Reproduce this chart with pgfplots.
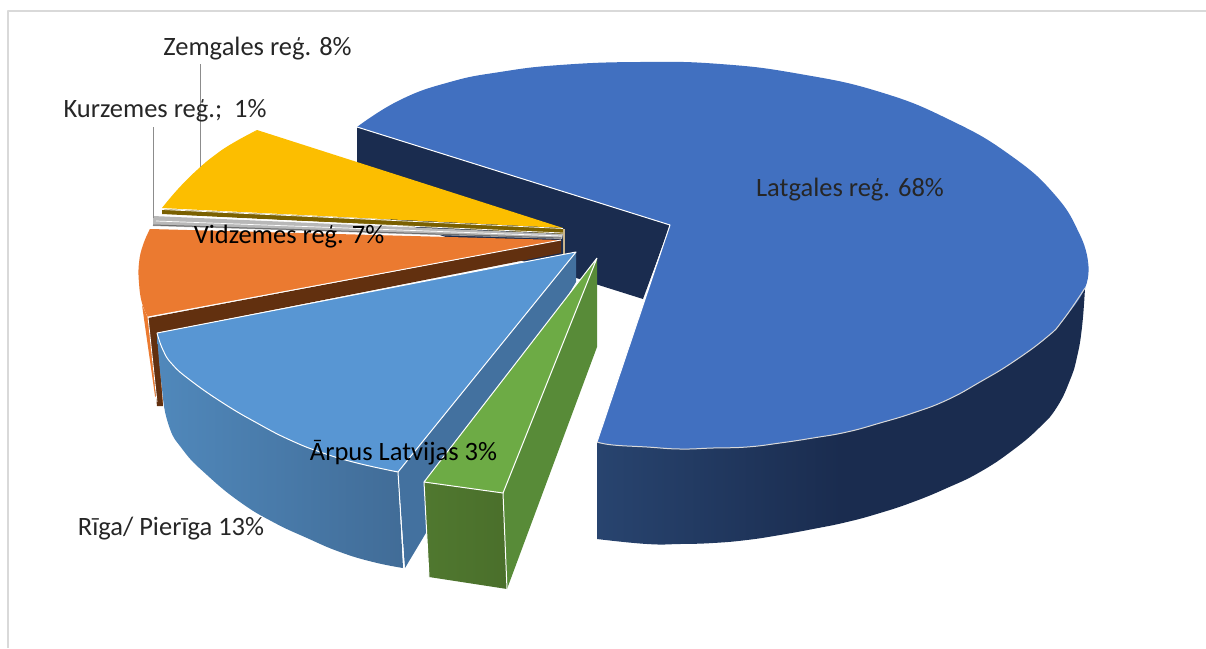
\documentclass[border=0pt]{standalone}
\usepackage{pgfplots}
\pgfplotsset{compat=1.18}
\usepackage{fontspec}
\setmainfont{Carlito}
\definecolor{cBlue}{HTML}{4170C0}
\definecolor{cNavy}{HTML}{1A2C4F}
\definecolor{cNavyL}{HTML}{28446F}
\definecolor{cYel}{HTML}{FCBE00}
\definecolor{cOlive}{HTML}{7A6000}
\definecolor{cOra}{HTML}{EB7A30}
\definecolor{cBro}{HTML}{62300F}
\definecolor{cLB}{HTML}{5896D3}
\definecolor{cLBw}{HTML}{43719F}
\definecolor{cLBl}{HTML}{5088BB}
\definecolor{cLBr}{HTML}{416C97}
\definecolor{cG}{HTML}{6DAB45}
\definecolor{cGr}{HTML}{588B38}
\definecolor{cGfl}{HTML}{50782F}
\definecolor{cGf}{HTML}{4A6F2B}
\definecolor{cTxt}{HTML}{262626}
\definecolor{cFrame}{HTML}{D9D9D9}
\definecolor{cGray}{HTML}{B8B8B8}
\definecolor{cGrayD}{HTML}{6E6E6E}
\definecolor{cLead}{HTML}{8C8C8C}
\definecolor{cTan}{HTML}{C8B48C}
\tikzset{lab/.style={font=\fontsize{26.5}{30}\selectfont, text=cTxt, inner sep=0pt, anchor=center},
  arc/.style={smooth, tension=0.8}}
\begin{document}
\begin{tikzpicture}
\begin{axis}[
  scale only axis, width=1206pt, height=648pt,
  xmin=0, xmax=1206, ymin=0, ymax=648, y dir=reverse,
  axis lines=none, clip=true,
  every axis plot/.append style={line join=round},
]
\path (axis cs:0,0) -- (axis cs:1206,648);
% frame
\addplot[draw=cFrame, line width=2pt] coordinates {(8,648)(8,11)(1206,11)};

% Latgales wall
\addplot[fill=cNavy, draw=none] coordinates {(357,127)(670,225)(643,299)(357,209)} --cycle;
% Latgales side
\addplot[draw=none, arc, left color=cNavyL, right color=cNavy, middle color=cNavy] coordinates {(597,539)(647,544)(680,544)(713,543)(747,540)(780,535)(813,529)(847,522)(880,513)(913,502)(947,488)(980,472)(1013,450)(1040,427)(1057,407)(1070,380)(1077,357)(1082,327)(1085,288)};
\addplot[draw=none, left color=cNavyL, right color=cNavy, middle color=cNavy] coordinates {(597,442)(597,539)(720,530)(1085,288)} --cycle;
% Latgales top
\addplot[fill=cBlue, draw=none] coordinates {(357,127)(700,100)(1088,262)(800,420)(597,442)(670,225)} --cycle;
\addplot[fill=cBlue, draw=none, arc] coordinates {(357,127)(400,100)(450,82)(500,72)(560,65)(640,62)(720,64)(800,74)(880,92)(950,120)(1010,155)(1055,195)(1080,235)(1088,262)};
\addplot[fill=cBlue, draw=none, arc] coordinates {(1088,262)(1085,288)(1063,320)(1047,337)(1013,362)(980,382)(947,400)(913,413)(880,423)(847,432)(813,438)(780,443)(747,447)(713,448)(680,449)(647,447)(613,445)(597,442)};
\addplot[draw=white, line width=1pt] coordinates {(357,127)(670,225)(597,442)};
\addplot[draw=white!85!black, line width=1pt, arc] coordinates {(1085,288)(1063,320)(1047,337)(1013,362)(980,382)(947,400)(913,413)(880,423)(847,432)(813,438)(780,443)(747,447)(713,448)(680,449)(647,447)(613,445)(597,442)};

% Zemgales
\addplot[fill=cYel, draw=none] coordinates {(563,228)(257,130)(212,162)(162,208)} --cycle;
\addplot[fill=cYel, draw=none, arc] coordinates {(257,130)(233,143)(215,155)(197,170)(178,189)(162,208)};
\addplot[fill=cOlive, draw=none] coordinates {(162,209)(563,228)(563,234)(162,214)} --cycle;
\addplot[draw=white, line width=0.7pt] coordinates {(162,209.5)(563,228.5)};
% Kurzemes
\addplot[fill=cGray, draw=none] coordinates {(153,216)(563,234)(562,239)(153,226)} --cycle;
\addplot[draw=white, line width=0.7pt] coordinates {(156,221)(562,236)};
\addplot[draw=cGrayD, line width=1pt] coordinates {(153,225)(561,238)};
\addplot[draw=white, line width=0.7pt] coordinates {(160,215)(563,233)};

% Vidzemes
\addplot[fill=cOra, draw=none] coordinates {(142,305)(148,318)(158,334)(163,406)(155,396)} --cycle;
\addplot[fill=cBro, draw=none] coordinates {(148,318)(561,240)(561,253)(157,333)(163,406)(157,406)} --cycle;
\addplot[fill=cOra, draw=none] coordinates {(561,240)(150,229)(142,275)(148,317)} --cycle;
\addplot[fill=cOra, draw=none, arc] coordinates {(150,229)(143,245)(139,263)(139,283)(142,303)(148,317)};
\addplot[draw=white, line width=0.9pt] coordinates {(148,317)(561,240)};
\addplot[draw=white, line width=0.8pt] coordinates {(148,317)(157,402)};
\addplot[draw=cTan, line width=1.5pt] coordinates {(564,229)(564,254)};

% Riga wall + side + top
\addplot[fill=cLBw, draw=none] coordinates {(576,252)(576,282)(405,568)(398,472)} --cycle;
\addplot[draw=none, arc, left color=cLBl, right color=cLBr] coordinates {(157,333)(161,380)(168,423)(183,450)(207,475)(240,502)(273,522)(307,538)(340,552)(373,562)(403,568)};
\addplot[draw=none, left color=cLBl, right color=cLBr] coordinates {(157,333)(280,510)(403,568)(398,472)} --cycle;
\addplot[fill=cLB, draw=none] coordinates {(576,252)(157,333)(260,415)(398,472)} --cycle;
\addplot[fill=cLB, draw=none, arc] coordinates {(157,333)(163,350)(172,364)(190,380)(223,403)(257,423)(290,440)(323,453)(357,463)(398,472)};
\addplot[draw=white, line width=1pt] coordinates {(398,472)(576,252)(157,333)};
\addplot[draw=white, line width=1pt, arc] coordinates {(157,333)(163,350)(172,364)(190,380)(223,403)(257,423)(290,440)(323,453)(357,463)(398,472)};
\addplot[draw=white, line width=1pt] coordinates {(398,472)(404,568)};

% Arpus Latvijas
\addplot[fill=cGr, draw=none] coordinates {(597,258)(597,347)(507,589)(503,493)} --cycle;
\addplot[draw=none, left color=cGfl, right color=cGf] coordinates {(424,482)(503,493)(507,589)(429,577)} --cycle;
\addplot[fill=cG, draw=none] coordinates {(597,258)(424,482)(503,493)} --cycle;
\addplot[draw=white, line width=1pt] coordinates {(597,258)(424,482)(503,493)(597,258)};
\addplot[draw=white, line width=1pt] coordinates {(424,482)(429,577)};
\addplot[draw=white, line width=1pt] coordinates {(503,493)(507,589)};

% leaders
\addplot[draw=cLead, line width=0.9pt] coordinates {(200,64)(200,167)};
\addplot[draw=cLead, line width=0.9pt] coordinates {(153,127)(153,218)};

% labels
\node[lab] at (axis cs:850,190) {Latgales reģ. 68\%};
\node[lab] at (axis cs:257.5,49) {Zemgales reģ. 8\%};
\node[lab] at (axis cs:165,111) {Kurzemes reģ.;\ \ 1\%};
\node[lab, text=black] at (axis cs:289,237) {Vidzemes reģ. 7\%};
\node[lab, text=black] at (axis cs:403.5,453) {Ārpus Latvijas 3\%};
\node[lab] at (axis cs:171,529) {Rīga/ Pierīga 13\%};
\end{axis}
\end{tikzpicture}
\end{document}
